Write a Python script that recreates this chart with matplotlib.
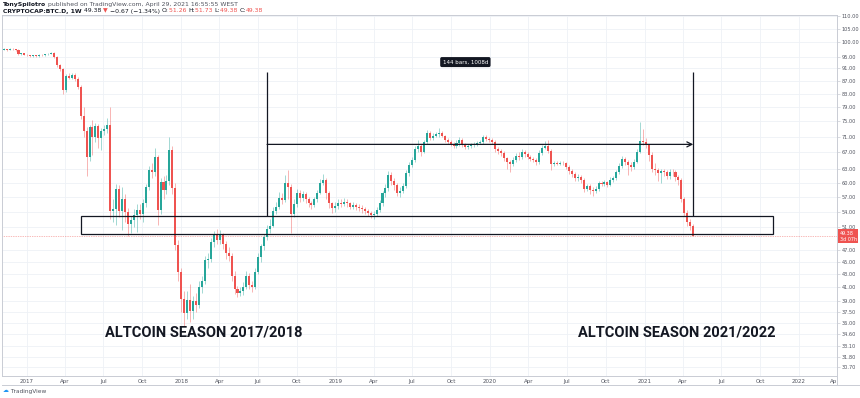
import matplotlib
matplotlib.use('Agg')
import matplotlib.pyplot as plt
import matplotlib.dates as mdates
from matplotlib.lines import Line2D
from matplotlib.patches import Rectangle
from matplotlib.ticker import FuncFormatter, NullLocator
import numpy as np
import pandas as pd

# weekly BTC.D candles
first_week = '2016-11-07'
first_open = 97.4
closes = [97.6, 97.4, 97.8, 97.5, 97.3, 95.9, 96.1, 95.7, 95.5, 95.2,
          95.4, 95.1, 95.6, 95.5, 95.8, 96.0, 96.3, 95.0, 92.0, 90.8,
          84.0, 88.6, 88.0, 88.8, 87.6, 85.0, 76.5, 72.5, 66.0, 73.5,
          71.0, 73.8, 70.5, 72.5, 73.0, 74.0, 54.2, 54.6, 58.7, 54.2,
          56.6, 54.0, 51.7, 52.4, 53.3, 54.4, 53.6, 55.8, 59.1, 62.9,
          62.5, 65.9, 54.4, 60.2, 58.5, 60.5, 67.7, 58.9, 47.9, 43.4,
          39.3, 37.3, 39.1, 37.6, 39.0, 38.5, 41.1, 42.0, 45.3, 45.5,
          48.4, 49.6, 48.8, 49.6, 48.0, 46.4, 46.0, 42.7, 40.7, 40.2,
          40.4, 41.1, 42.7, 41.4, 41.0, 43.4, 45.8, 47.6, 49.2, 50.8,
          51.3, 54.2, 54.9, 56.8, 56.3, 60.0, 59.0, 53.5, 55.6, 57.8,
          56.7, 57.5, 56.6, 55.7, 55.4, 56.5, 57.8, 60.0, 60.6, 57.8,
          55.7, 54.7, 55.1, 55.7, 55.6, 56.0, 55.7, 55.0, 55.3, 54.9,
          54.8, 54.5, 54.1, 53.8, 53.3, 53.6, 54.4, 55.7, 57.8, 58.8,
          61.7, 60.3, 59.5, 57.8, 58.3, 59.2, 62.2, 64.0, 65.2, 67.8,
          68.6, 67.2, 69.5, 71.9, 70.6, 71.2, 71.6, 71.9, 71.2, 70.0,
          69.6, 69.0, 68.7, 69.4, 70.2, 68.9, 68.3, 68.5, 68.8, 69.0,
          69.4, 69.6, 70.8, 70.4, 70.0, 69.6, 67.8, 67.3, 66.9, 65.6,
          64.6, 64.2, 65.3, 66.2, 65.9, 67.1, 66.6, 66.0, 65.5, 65.1,
          64.6, 66.9, 68.2, 68.6, 67.4, 64.3, 64.5, 64.3, 64.5, 64.4,
          63.6, 62.6, 62.0, 61.0, 61.3, 60.6, 58.7, 59.3, 58.5, 58.3,
          58.7, 59.9, 59.8, 60.1, 59.6, 60.6, 61.0, 62.3, 63.8, 65.4,
          64.8, 64.0, 63.6, 64.8, 67.1, 69.9, 69.6, 68.8, 66.4, 63.2,
          62.8, 62.2, 62.6, 62.4, 61.4, 62.4, 62.3, 61.2, 60.6, 56.5,
          53.8, 52.0, 51.26, 49.38]
highs = [97.9, 97.8, 98.0, 98.0, 97.7, 97.5, 96.4, 96.3, 95.9, 95.7,
         95.6, 95.6, 95.8, 95.8, 96.0, 96.3, 96.6, 96.5, 95.3, 92.6,
         91.2, 89.3, 89.5, 89.6, 89.6, 88.2, 85.6, 79.0, 73.5, 74.0,
         75.5, 74.5, 74.2, 73.2, 74.0, 76.0, 79.0, 56.5, 59.8, 59.6,
         59.0, 57.5, 54.8, 53.2, 54.5, 55.5, 55.5, 56.5, 59.8, 63.8,
         64.5, 68.0, 66.5, 61.0, 61.5, 61.8, 71.0, 68.5, 60.0, 48.8,
         44.0, 40.5, 40.5, 41.5, 39.8, 40.2, 42.0, 42.8, 46.0, 46.5,
         49.0, 50.3, 50.8, 50.5, 50.0, 48.5, 47.5, 46.5, 43.5, 41.2,
         41.0, 41.8, 43.5, 43.2, 42.0, 44.0, 46.5, 48.0, 49.8, 51.5,
         52.5, 55.0, 56.0, 58.0, 57.8, 61.8, 62.8, 59.8, 56.5, 58.6,
         58.5, 58.3, 58.0, 57.0, 56.2, 57.0, 58.5, 60.8, 62.0, 61.0,
         58.2, 56.0, 56.0, 56.5, 56.5, 56.8, 56.5, 56.0, 56.0, 55.8,
         55.5, 55.3, 55.0, 54.6, 54.2, 54.2, 55.0, 56.4, 58.3, 59.8,
         62.6, 62.4, 61.0, 60.0, 59.0, 60.0, 62.8, 64.8, 66.0, 68.5,
         70.0, 69.2, 70.2, 72.6, 72.4, 71.8, 72.2, 73.2, 72.5, 71.5,
         70.5, 70.0, 69.5, 70.0, 70.8, 70.6, 69.3, 69.0, 69.3, 69.5,
         69.9, 70.2, 71.4, 71.3, 70.9, 70.5, 70.0, 68.3, 67.8, 67.3,
         66.0, 65.2, 66.0, 66.8, 67.0, 67.8, 67.6, 67.0, 66.4, 66.0,
         65.6, 67.5, 68.8, 69.9, 70.0, 67.8, 65.0, 64.9, 65.0, 64.9,
         64.8, 64.0, 63.0, 62.5, 61.9, 61.8, 61.0, 59.8, 59.7, 59.0,
         59.3, 60.5, 60.4, 60.6, 60.4, 61.2, 61.6, 62.9, 64.4, 66.2,
         66.0, 65.2, 64.6, 65.4, 67.8, 74.8, 73.0, 70.6, 69.2, 67.0,
         64.5, 63.4, 63.2, 63.0, 62.8, 63.0, 63.0, 62.8, 61.7, 61.0,
         57.0, 54.3, 52.6, 51.73]
lows = [97.2, 97.1, 97.2, 97.3, 97.0, 95.6, 95.7, 95.5, 95.2, 95.0,
        95.0, 94.9, 95.0, 95.3, 95.3, 95.6, 95.8, 94.6, 91.5, 90.0,
        83.0, 83.6, 87.4, 87.6, 87.0, 84.3, 75.8, 71.0, 61.5, 65.0,
        66.5, 69.5, 68.0, 67.5, 71.5, 72.0, 52.5, 52.0, 51.5, 53.0,
        50.5, 52.0, 49.5, 50.0, 51.0, 50.2, 52.5, 52.0, 55.0, 58.5,
        61.0, 61.5, 51.5, 53.5, 56.5, 57.5, 59.5, 57.5, 47.0, 42.0,
        37.5, 35.6, 36.5, 36.2, 36.5, 37.5, 38.0, 40.2, 41.5, 44.0,
        45.0, 47.5, 48.0, 48.0, 47.2, 45.5, 45.2, 42.0, 40.0, 39.6,
        39.8, 39.9, 40.8, 40.8, 40.3, 40.8, 43.0, 45.0, 47.0, 48.8,
        50.0, 51.0, 53.5, 54.5, 55.5, 56.0, 56.5, 50.0, 53.0, 55.0,
        56.0, 56.2, 55.8, 55.0, 54.6, 55.0, 56.0, 57.5, 59.5, 56.5,
        54.8, 53.8, 54.0, 54.6, 55.0, 55.2, 55.0, 54.5, 54.6, 54.3,
        54.2, 53.8, 53.6, 53.2, 52.8, 52.6, 53.2, 54.0, 55.2, 57.0,
        58.2, 59.5, 58.5, 57.2, 57.0, 57.8, 58.8, 61.5, 63.5, 64.8,
        67.0, 66.2, 66.8, 69.0, 70.0, 70.0, 70.8, 71.0, 70.8, 69.6,
        69.0, 68.5, 68.0, 68.2, 68.5, 68.3, 67.9, 67.8, 68.0, 68.4,
        68.6, 69.0, 69.2, 69.8, 69.6, 69.0, 67.2, 66.6, 66.2, 65.0,
        63.0, 62.3, 63.8, 64.8, 65.2, 65.5, 66.0, 65.4, 65.0, 64.6,
        64.0, 64.2, 66.5, 67.8, 66.8, 62.8, 63.8, 63.9, 64.0, 63.9,
        63.0, 62.0, 61.2, 60.3, 60.5, 60.0, 58.0, 58.2, 57.6, 57.2,
        57.8, 58.3, 59.2, 59.4, 59.0, 59.2, 60.2, 60.7, 62.0, 63.4,
        64.0, 61.8, 62.6, 63.2, 64.4, 66.8, 68.8, 68.0, 65.0, 62.4,
        61.8, 60.5, 60.0, 61.5, 60.8, 60.9, 61.5, 60.5, 59.6, 56.0,
        53.2, 51.2, 50.5, 49.38]

last_price = 49.38
bar_countdown = '3d 07h'

# right price scale labels
y_ticks = [110, 105, 100, 95, 91, 87, 83, 79, 75, 71, 67, 63, 60, 57, 54, 51,
           47, 45, 43, 41, 39, 37.5, 36, 34.6, 33.1, 31.8, 30.7]
x_tick_dates = ['2017-01-01', '2017-04-01', '2017-07-01', '2017-10-01',
                '2018-01-01', '2018-04-01', '2018-07-01', '2018-10-01',
                '2019-01-01', '2019-04-01', '2019-07-01', '2019-10-01',
                '2020-01-01', '2020-04-01', '2020-07-01', '2020-10-01',
                '2021-01-01', '2021-04-01', '2021-07-01', '2021-10-01',
                '2022-01-01', '2022-04-01']
x_tick_labels = ['2017', 'Apr', 'Jul', 'Oct', '2018', 'Apr', 'Jul', 'Oct',
                 '2019', 'Apr', 'Jul', 'Oct', '2020', 'Apr', 'Jul', 'Oct',
                 '2021', 'Apr', 'Jul', 'Oct', '2022', 'Ap']

# drawings on the chart
box_start, box_end = '2017-05-08', '2021-10-31'
box_low, box_high = 49.8, 53.25
measure_start, measure_end = '2018-07-23', '2021-04-26'
measure_top = 89.8
arrow_level = 69.0
measure_label = '144 bars, 1008d'
measure_label_pos = ('2019-11-04', 93.1)
season_labels = ['ALTCOIN SEASON 2017/2018', 'ALTCOIN SEASON 2021/2022']
season_pos = [('2018-02-24', 34.8), ('2021-03-17', 34.8)]

UP = '#26a69a'
DOWN = '#ef5350'
INK = '#131722'
GRID = '#eef1f6'
FRAME = '#c9ccd4'
TXT = '#50535e'


def d(s):
    return mdates.date2num(pd.Timestamp(s))


dates = mdates.date2num(pd.date_range(first_week, periods=len(closes), freq='7D'))
c = np.array(closes)
o = np.concatenate([[first_open], c[:-1]])
cols = np.where(c >= o, UP, DOWN)

fig = plt.figure(figsize=(8.6, 3.98), dpi=100)
fig.patch.set_facecolor('white')
ax = fig.add_axes([2 / 860, 1 - 376 / 398, 835 / 860, 361 / 398])

ax.vlines(dates, lows, highs, colors=cols, lw=0.6, alpha=0.5, zorder=2)
ax.bar(dates, c - o, bottom=o, width=4.8, color=cols, lw=0, zorder=3)

ax.set_yscale('log')
ax.set_ylim(29.7, 110.5)
ax.set_xlim(d('2016-11-03'), d('2022-04-01'))

ax.yaxis.tick_right()
ax.set_yticks(y_ticks)
ax.yaxis.set_major_formatter(FuncFormatter(lambda v, p: '%.2f' % v))
ax.yaxis.set_minor_locator(NullLocator())
ax.set_xticks([d(s) for s in x_tick_dates])
ax.set_xticklabels(x_tick_labels)
ax.xaxis.set_minor_locator(NullLocator())
ax.get_xticklabels()[-1].set_ha('right')
ax.tick_params(axis='y', length=2, width=0.5, color=FRAME, labelsize=3.6,
               labelcolor=TXT, pad=1.5)
ax.tick_params(axis='x', length=0, labelsize=4.0, labelcolor=TXT, pad=2.5)
ax.grid(True, color=GRID, lw=0.6, zorder=0)
ax.set_axisbelow(True)
for sp in ax.spines.values():
    sp.set_color(FRAME)
    sp.set_linewidth(0.7)

# last price line and label
ax.axhline(last_price, color=DOWN, lw=0.5, ls=(0, (1, 1.5)), alpha=0.8, zorder=1)
ax.text(1.003, last_price, '%.2f\n%s' % (last_price, bar_countdown),
        transform=ax.get_yaxis_transform(), ha='left', va='center',
        fontsize=3.5, color='white', linespacing=1.1,
        bbox=dict(boxstyle='square,pad=0.35', fc=DOWN, ec='none'), clip_on=False)

# box, measure lines and arrow
ax.add_patch(Rectangle((d(box_start), box_low), d(box_end) - d(box_start),
                       box_high - box_low, fill=False, ec=INK, lw=0.9, zorder=4))
ax.vlines([d(measure_start), d(measure_end)], box_high, measure_top,
          colors=INK, lw=0.9, zorder=4)
ax.annotate('', xy=(d(measure_end), arrow_level),
            xytext=(d(measure_start), arrow_level),
            arrowprops=dict(arrowstyle='->', lw=0.9, color=INK,
                            mutation_scale=9, shrinkA=0, shrinkB=0), zorder=4)
ax.text(d(measure_label_pos[0]), measure_label_pos[1], measure_label,
        ha='center', va='center', fontsize=4.0, color='white', zorder=5,
        bbox=dict(boxstyle='round,pad=0.45,rounding_size=0.3', fc=INK, ec='none'))

for label, (xs, yv) in zip(season_labels, season_pos):
    ax.text(d(xs), yv, label, ha='center', va='center', fontsize=10.5,
            fontweight='bold', color=INK,
            family=['Roboto', 'DejaVu Sans'], zorder=5)

# frame of the time scale panel
fig.add_artist(Line2D([2 / 860, 1], [1 - 385 / 398] * 2, color=FRAME, lw=0.7))
fig.add_artist(Line2D([837 / 860] * 2, [1 - 385 / 398, 1 - 376 / 398],
                      color=FRAME, lw=0.7))


def text_run(x, y, parts, size=4.4):
    fig.canvas.draw()
    r = fig.canvas.get_renderer()
    for s, color, weight in parts:
        t = fig.text(x, y, s, fontsize=size, color=color, fontweight=weight,
                     va='center', ha='left')
        bb = t.get_window_extent(renderer=r)
        x += bb.width / fig.bbox.width


text_run(3 / 860, 1 - 4.5 / 398, [
    ('TonySpilotro', INK, 'bold'),
    (' published on TradingView.com, April 29, 2021 16:55:55 WEST', TXT, 'normal')])
text_run(3 / 860, 1 - 11 / 398, [
    ('CRYPTOCAP:BTC.D, 1W ', INK, 'bold'),
    ('49.38 ', INK, 'normal'),
    ('\u25bc', DOWN, 'normal'),
    (' \u22120.67 (\u22121.34%) ', INK, 'normal'),
    ('O:', INK, 'normal'), ('51.26 ', DOWN, 'normal'),
    ('H:', INK, 'normal'), ('51.73 ', DOWN, 'normal'),
    ('L:', INK, 'normal'), ('49.38 ', DOWN, 'normal'),
    ('C:', INK, 'normal'), ('49.38', DOWN, 'normal')])
text_run(3 / 860, 1 - 391 / 398, [
    ('\u2601', '#2196f3', 'normal'),
    (' TradingView', TXT, 'normal')], size=4.2)

fig.savefig('out.png', dpi=100, facecolor='white')
